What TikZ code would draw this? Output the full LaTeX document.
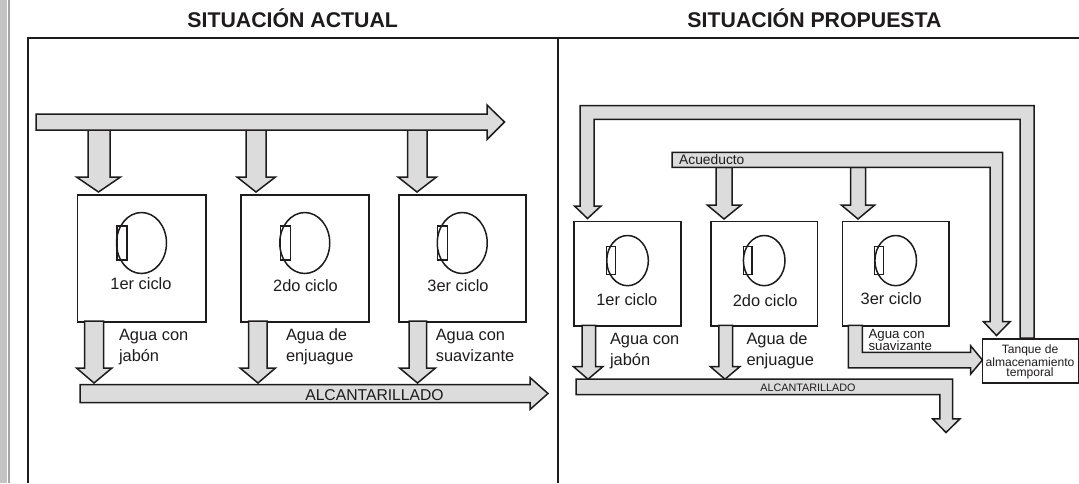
\documentclass[tikz,border=0pt]{standalone}
\usepackage{fontspec}
\setmainfont{Liberation Sans}
\usetikzlibrary{calc}
\definecolor{ink}{RGB}{30,27,28}
\definecolor{pipe}{RGB}{220,220,220}
\definecolor{strip}{RGB}{196,196,196}
\definecolor{stripline}{RGB}{165,165,165}
\tikzset{
  blockarrow/.style={draw=ink, fill=pipe, line width=1.5pt, line join=miter},
  machine/.style={draw=ink, line width=1.5pt},
  frameline/.style={draw=ink, line width=2pt},
  lbl/.style={inner sep=0pt, anchor=base west, text=ink, font=\fontsize{16.4}{20.5}\selectfont},
  cyc/.style={inner sep=0pt, anchor=base, text=ink, font=\fontsize{16.4}{20}\selectfont},
  ttl/.style={inner sep=0pt, anchor=base, text=ink, font=\bfseries\fontsize{21.3}{24}\selectfont},
}
\begin{document}
\begin{tikzpicture}[x=1pt,y=-1pt]
\useasboundingbox (0,0) rectangle (1079,483);
% left strip
\fill[strip] (0,0) rectangle (7.3,483);
\draw[stripline, line width=2pt] (9.3,0) -- (9.3,483);
% frame
\draw[frameline] (28,483) -- (28,37.5) -- (1079,37.5);
\draw[frameline] (558,37.5) -- (558,483);
% titles
\node[ttl] (t1) at (292.7,27.5) {SITUACIÓN ACTUAL};
\node[ttl] (t2) at (814.5,27.5) {SITUACIÓN PROPUESTA};

% ===== LEFT PANEL =====
% down arrows from supply
\draw[blockarrow] (88,130) -- (110,130) -- (110,177) -- (120.5,177) -- (98.5,192) -- (76.5,177) -- (88,177) -- cycle;
\draw[blockarrow] (246,130) -- (266,130) -- (266,177) -- (275.5,177) -- (256,192) -- (237,177) -- (246,177) -- cycle;
\draw[blockarrow] (407.5,130) -- (427,130) -- (427,177) -- (436.5,177) -- (417,192) -- (398,177) -- (407.5,177) -- cycle;
% supply arrow
\draw[blockarrow] (36,114) -- (487,114) -- (487,105) -- (504.5,122) -- (487,139.5) -- (487,130) -- (36,130) -- cycle;
% machines
\foreach \n/\xa/\xb in {L1/76.5/205, L2/240/368, L3/398/525}{
  \node[machine, inner sep=0pt, minimum width={\xb-\xa}, minimum height=127, anchor=north west] (\n) at (\xa,194) {};
  \draw[machine] ($(\n.north)+(0,49)$) ellipse [x radius=25, y radius=30.5];
  \draw[machine, line width=1.1pt] ($(\n.north)+(-24.5,32)$) rectangle ($(\n.north)+(-14.5,66)$);
}
\node[cyc] (c1) at (141,289) {1er ciclo};
\node[cyc] (c2) at (305.5,291) {2do ciclo};
\node[cyc] (c3) at (458,291) {3er ciclo};
% outlet arrows
\draw[blockarrow] (84.5,321) -- (103.5,321) -- (103.5,368) -- (112,368) -- (94,383) -- (76.5,368) -- (84.5,368) -- cycle;
\draw[blockarrow] (248.5,321) -- (267,321) -- (267,368) -- (275.5,368) -- (258,383) -- (240,368) -- (248.5,368) -- cycle;
\draw[blockarrow] (409,321) -- (426.5,321) -- (426.5,368) -- (435.5,368) -- (417.5,383) -- (399.5,368) -- (409,368) -- cycle;
\node[lbl, align=left] (w1) at (118.8,361) {Agua con\\jabón};
\node[lbl, align=left] (w2) at (285.8,361) {Agua de\\enjuague};
\node[lbl, align=left] (w3) at (435.6,361) {Agua con\\suavizante};
% sewer
\draw[blockarrow] (80,384.5) -- (530,384.5) -- (530,377.5) -- (548,393.5) -- (530,409.5) -- (530,402.5) -- (80,402.5) -- cycle;
\node[inner sep=0pt, anchor=base, text=ink, font=\fontsize{15.7}{18}\selectfont] (s1) at (374.5,400.6) {ALCANTARILLADO};

% ===== RIGHT PANEL =====
% recirculation loop
\draw[blockarrow] (1034,338) -- (1034,105.5) -- (580,105.5) -- (580,206) -- (574.5,206) -- (587.5,218.5) -- (601,206) -- (594,206) -- (594,119.3) -- (1020,119.3) -- (1020,338) -- cycle;
% acueducto down arrows
\draw[blockarrow] (716,167.4) -- (732,167.4) -- (732,205.2) -- (741,205.2) -- (724,219) -- (707.5,205.2) -- (716,205.2) -- cycle;
\draw[blockarrow] (850.5,167.4) -- (865.5,167.4) -- (865.5,205.2) -- (874.5,205.2) -- (858,219) -- (841.5,205.2) -- (850.5,205.2) -- cycle;
% acueducto
\draw[blockarrow] (672,152.3) -- (1002.5,152.3) -- (1002.5,321.7) -- (1010,321.7) -- (996.5,335.5) -- (983.5,321.7) -- (990,321.7) -- (990,167.4) -- (672,167.4) -- cycle;
\node[inner sep=0pt, anchor=base west, text=ink, font=\fontsize{13.8}{16}\selectfont] (aq) at (679,164.5) {Acueducto};
% machines
\foreach \n/\xa/\xb in {R1/573.3/680.3, R2/710.2/816.7, R3/841.5/948.4}{
  \node[machine, inner sep=0pt, minimum width={\xb-\xa}, minimum height=104.6, anchor=north west] (\n) at (\xa,220.7) {};
  \draw[machine] ($(\n.north)+(0,39.9)$) ellipse [x radius=20.8, y radius=25.1];
  \draw[machine, line width=1.1pt] ($(\n.north)+(-20.8,26.1)$) rectangle ($(\n.north)+(-12.2,53.7)$);
}
\node[cyc] (d1) at (626.8,305) {1er ciclo};
\node[cyc] (d2) at (765.2,306) {2do ciclo};
\node[cyc] (d3) at (891.2,304) {3er ciclo};
% outlets
\draw[blockarrow] (582,325.3) -- (595.7,325.3) -- (595.7,366.5) -- (603,366.5) -- (588,379.2) -- (573.3,366.5) -- (582,366.5) -- cycle;
\draw[blockarrow] (718.8,325.3) -- (732.5,325.3) -- (732.5,366.5) -- (740,366.5) -- (725,379.2) -- (710.2,366.5) -- (718.8,366.5) -- cycle;
\draw[blockarrow] (848.4,325.3) -- (862.4,325.3) -- (862.4,352.4) -- (970.7,352.4) -- (970.7,345.9) -- (982.4,360) -- (970.7,374) -- (970.7,367.9) -- (848.4,367.9) -- cycle;
\node[lbl, align=left] (v1) at (609.8,365) {Agua con\\jabón};
\node[lbl, align=left] (v2) at (746.3,365) {Agua de\\enjuague};
\node[inner sep=0pt, anchor=base west, align=left, text=ink, font=\fontsize{13.3}{12.5}\selectfont] (v3) at (868.3,350.5) {Agua con\\suavizante};
% tank
\node[machine, inner sep=0pt, minimum width=96, minimum height=44, anchor=north west] (tank) at (981.7,338) {};
\node[inner sep=0pt, anchor=base, align=center, text=ink, font=\fontsize{12.1}{10.3}\selectfont] (tt) at (1030,376.5) {Tanque de\\almacenamiento\\temporal};
% sewer
\draw[blockarrow] (576,379.2) -- (952.5,379.2) -- (952.5,418.8) -- (960,418.8) -- (946,432.5) -- (932.6,418.8) -- (939.8,418.8) -- (939.8,394.7) -- (576,394.7) -- cycle;
\node[inner sep=0pt, anchor=base, text=ink, font=\fontsize{10.8}{12}\selectfont] (s2) at (808,391.7) {ALCANTARILLADO};
\end{tikzpicture}
\end{document}
